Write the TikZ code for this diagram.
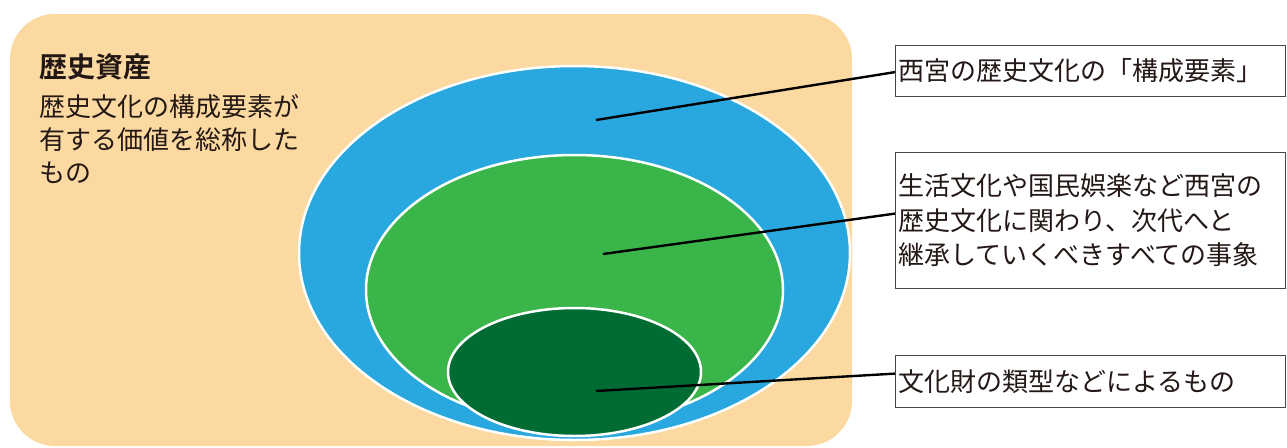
\documentclass[tikz,border=0pt]{standalone}
\usepackage{fontspec}
\setmainfont{Noto Sans CJK JP}[BoldFont={Noto Sans CJK JP Bold}]
\usetikzlibrary{shapes.geometric}
\definecolor{beige}{RGB}{251,217,160}
\definecolor{skyblue}{RGB}{41,168,224}
\definecolor{midgreen}{RGB}{58,181,74}
\definecolor{darkgreen}{RGB}{0,107,51}
\definecolor{ink}{RGB}{35,24,21}
\definecolor{frame}{RGB}{70,70,70}
\tikzset{
  ring/.style={ellipse, draw=white, line width=2.5pt, inner sep=0pt},
  labelbox/.style={draw=frame, line width=1.2pt, fill=white, anchor=north west,
    inner xsep=3pt, inner ysep=0pt, text width=384pt, align=left,
    font=\fontsize{26}{34.5}\selectfont, text=ink},
  leader/.style={draw=black, line width=2.4pt},
  sidetext/.style={anchor=west, inner sep=0pt, align=left, text=ink}
}
\begin{document}
\begin{tikzpicture}[x=1pt,y=-1pt]
\useasboundingbox (0,0) rectangle (1287,447);
% background
\fill[beige, rounded corners=45pt] (10,14) rectangle (852,446);
% ellipses
\node[ring, fill=skyblue, minimum width=551pt, minimum height=374pt] (blue) at (574.5,253) {};
\node[ring, fill=midgreen, minimum width=417pt, minimum height=270pt] (green) at (574.5,290) {};
\node[ring, fill=darkgreen, minimum width=253pt, minimum height=128pt] (dgreen) at (574.5,372) {};
% left text
\node[sidetext, font=\fontsize{28}{33}\selectfont\bfseries] (title) at (39,67) {歴史資産};
\node[sidetext, font=\fontsize{26}{33}\selectfont] (desc) at (39,139) {歴史文化の構成要素が\\有する価値を総称した\\もの};
% boxes
\node[labelbox, minimum height=51pt] (box1) at (895,45) {西宮の歴史文化の「構成要素」};
\node[labelbox, minimum height=136pt] (box2) at (895,152) {生活文化や国民娯楽など西宮の\\歴史文化に関わり、次代へと\\継承していくべきすべての事象};
\node[labelbox, minimum height=52pt] (box3) at (895,355) {文化財の類型などによるもの};
% leaders
\coordinate (p1) at (596,120);
\coordinate (p2) at (603,254);
\coordinate (p3) at (596,391);
\draw[leader] (p1) -- ([yshift=-1pt]box1.west);
\draw[leader] (p2) -- ([yshift=7pt]box2.west);
\draw[leader] (p3) -- ([yshift=8pt]box3.west);
\end{tikzpicture}
\end{document}
